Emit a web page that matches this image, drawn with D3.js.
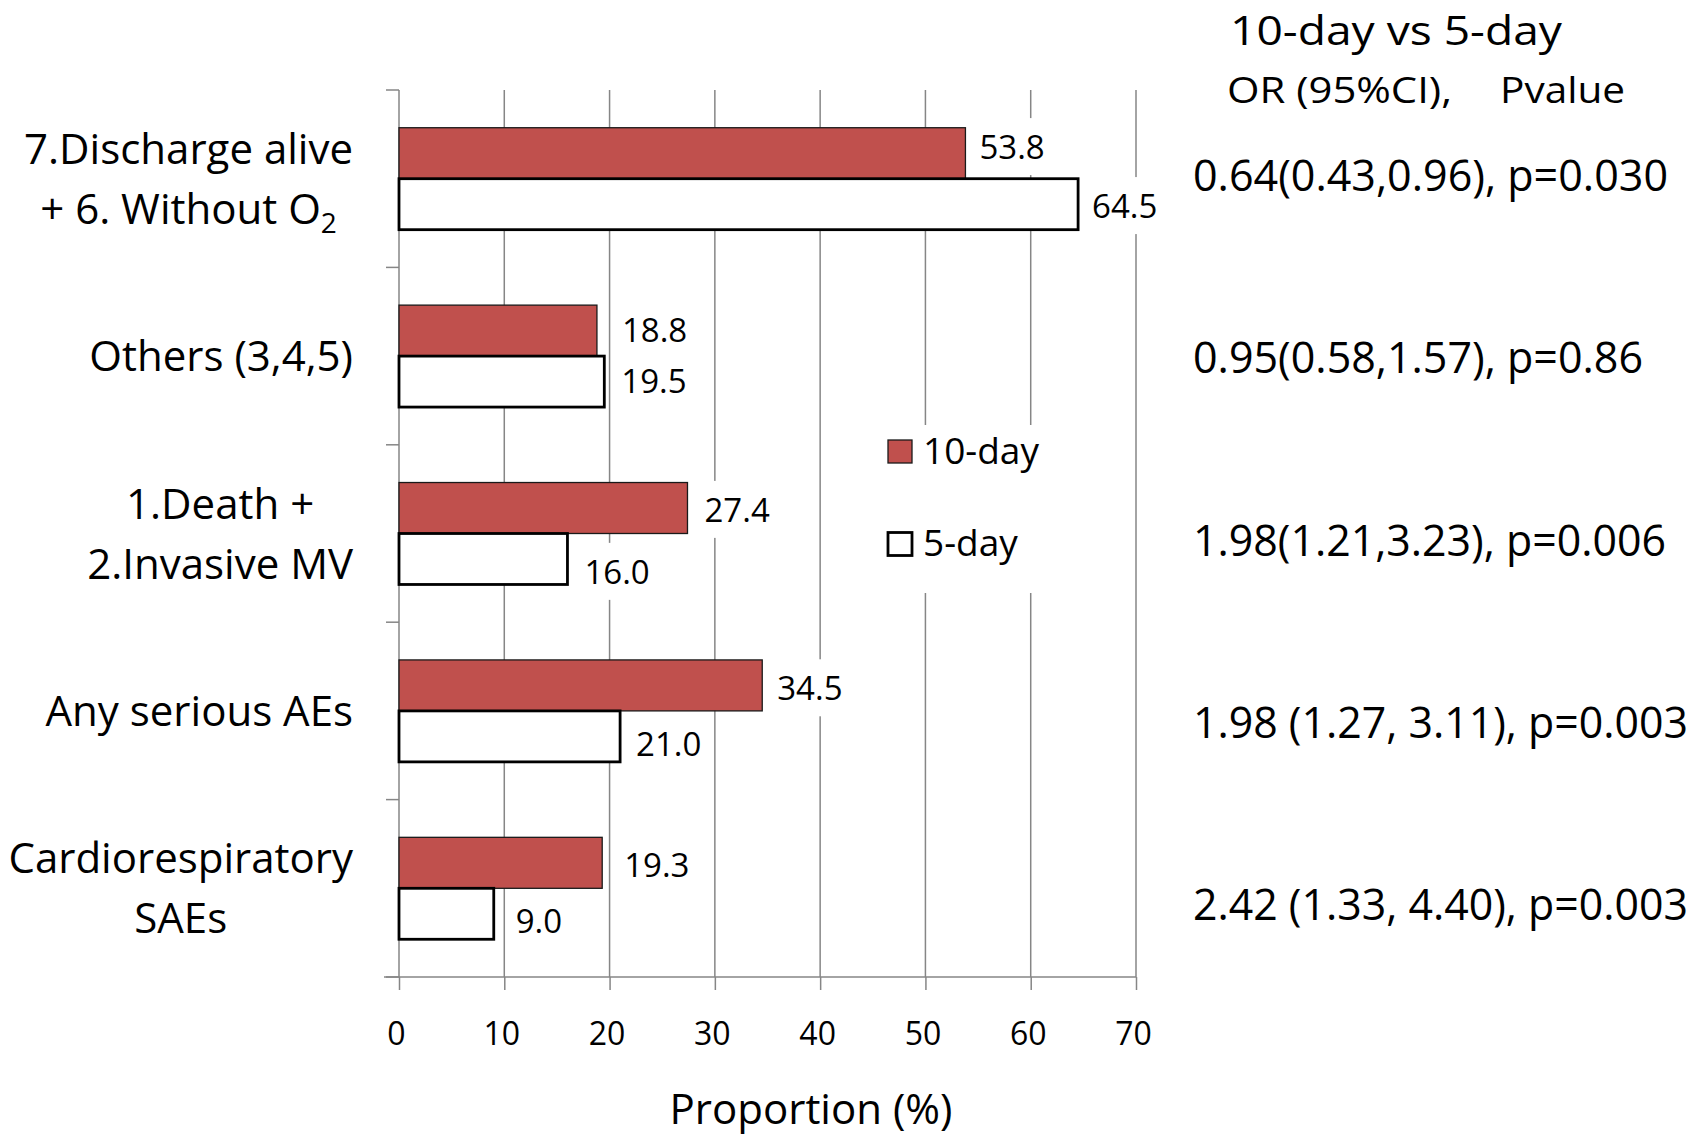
<!DOCTYPE html>
<html>
<head>
<meta charset="utf-8">
<script src="https://cdn.jsdelivr.net/npm/d3@7"></script>
<style>
  html, body { margin: 0; padding: 0; background: #fff; }
  svg { display: block; font-family: "Open Sans", sans-serif; }
</style>
</head>
<body>
<svg id="chart" width="1702" height="1138"></svg>
<script>
// ---------- data ----------
const categories = [
  ["7.Discharge alive", "+ 6. Without O|2"],
  ["Others (3,4,5)"],
  ["1.Death +", "2.Invasive MV"],
  ["Any serious AEs"],
  ["Cardiorespiratory", "SAEs"]
];
const seriesNames = ["10-day", "5-day"];
const values10 = [53.8, 18.8, 27.4, 34.5, 19.3];
const values5  = [64.5, 19.5, 16.0, 21.0, 9.0];
const xTicks = [0, 10, 20, 30, 40, 50, 60, 70];
const tableTitle = "10-day vs 5-day";
const tableHeader = ["OR (95%CI),", "Pvalue"];
const orRows = [
  "0.64(0.43,0.96), p=0.030",
  "0.95(0.58,1.57), p=0.86",
  "1.98(1.21,3.23), p=0.006",
  "1.98 (1.27, 3.11), p=0.003",
  "2.42 (1.33, 4.40), p=0.003"
];

// ---------- layout (not data) ----------
const orRowWidths = [475, 450, 473, 495, 495];
const labelNudge10 = [-6, 0, 2, 3, 2];     // small vertical nudges of value labels
const labelNudge5  = [2, 0, 13, 8, 7];
const labelGap10 = [14, 25, 17, 15, 22];
const labelGap5  = [14, 17, 17, 16, 22];
const colors = { red: "#C0504D", grid: "#868686" };

const svg = d3.select("#chart");
const x = d3.scaleLinear().domain([0, 70]).range([399, 1136]);
const y = d3.scaleBand().domain(d3.range(categories.length)).range([90, 977]).padding(0);
const ys = d3.scaleBand().domain(seriesNames).range([0, y.bandwidth()]).paddingInner(0).paddingOuter(0.74);

const rows = categories.map((c, i) => ({ i, lines: c, v10: values10[i], v5: values5[i] }));

// gridlines
svg.append("g").selectAll("line").data(xTicks.filter(t => t > 0)).join("line")
  .attr("x1", d => x(d)).attr("x2", d => x(d))
  .attr("y1", y.range()[0]).attr("y2", y.range()[1])
  .attr("stroke", colors.grid).attr("stroke-width", 1.5);

// bottom axis
const xAxis = svg.append("g").attr("transform", `translate(0,${y.range()[1]})`)
  .call(d3.axisBottom(x).tickValues(xTicks).tickSize(13).tickPadding(0).tickFormat(d3.format("d")));
xAxis.select(".domain").remove();
xAxis.selectAll(".tick line").attr("stroke", colors.grid).attr("stroke-width", 1.5);
xAxis.selectAll(".tick text").attr("font-size", 32).attr("fill", "#000")
  .attr("font-family", "Open Sans").attr("dy", null).attr("y", 68).attr("x", -3);
svg.append("line").attr("x1", 384).attr("x2", x(70))
  .attr("y1", y.range()[1]).attr("y2", y.range()[1])
  .attr("stroke", colors.grid).attr("stroke-width", 1.5);

// left axis
svg.append("line").attr("x1", x(0)).attr("x2", x(0))
  .attr("y1", y.range()[0]).attr("y2", y.range()[1])
  .attr("stroke", colors.grid).attr("stroke-width", 1.5);
const bounds = d3.range(categories.length + 1).map(i => i < categories.length ? y(i) : y.range()[1]);
svg.append("g").selectAll("line").data(bounds).join("line")
  .attr("x1", x(0) - 13).attr("x2", x(0)).attr("y1", d => d).attr("y2", d => d)
  .attr("stroke", colors.grid).attr("stroke-width", 1.5);

// bars
const barG = svg.append("g");
barG.selectAll("rect.b10").data(rows).join("rect").attr("class", "b10")
  .attr("x", x(0)).attr("y", d => y(d.i) + ys("10-day"))
  .attr("width", d => x(d.v10) - x(0)).attr("height", ys.bandwidth())
  .attr("fill", colors.red).attr("stroke", "#1a1a1a").attr("stroke-width", 1.3);
barG.selectAll("rect.b5").data(rows).join("rect").attr("class", "b5")
  .attr("x", x(0)).attr("y", d => y(d.i) + ys("5-day"))
  .attr("width", d => x(d.v5) - x(0)).attr("height", ys.bandwidth())
  .attr("fill", "#fff").attr("stroke", "#000").attr("stroke-width", 2.8);

// value labels with white backgrounds
const fmt = d3.format(".1f");
function valueLabel(v, xPos, yCenter) {
  const g = svg.append("g");
  const bg = g.append("rect").attr("fill", "#fff");
  const t = g.append("text").attr("x", xPos).attr("y", yCenter).attr("dy", "0.36em")
    .attr("font-size", 33).attr("fill", "#000").text(fmt(v));
  const bb = t.node().getBBox();
  bg.attr("x", bb.x - 8).attr("y", bb.y - 6).attr("width", bb.width + 16).attr("height", bb.height + 12);
}
rows.forEach(d => {
  valueLabel(d.v10, x(d.v10) + labelGap10[d.i], y(d.i) + ys("10-day") + ys.bandwidth() / 2 + labelNudge10[d.i]);
  valueLabel(d.v5, x(d.v5) + labelGap5[d.i], y(d.i) + ys("5-day") + ys.bandwidth() / 2 + labelNudge5[d.i]);
});

// category labels (centered block, right-aligned to axis)
const labelRight = 353, lineGap = 60;
rows.forEach(d => {
  const cy = y(d.i) + y.bandwidth() / 2;
  const n = d.lines.length;
  const g = svg.append("g");
  const texts = d.lines.map((line, k) => {
    const t = g.append("text").attr("font-size", 42).attr("fill", "#000")
      .attr("text-anchor", "middle")
      .attr("y", cy + 15 + (k - (n - 1) / 2) * lineGap);
    const parts = line.split("|");
    t.append("tspan").text(parts[0]);
    if (parts[1]) t.append("tspan").attr("font-size", 28).attr("dy", 9).text(parts[1]);
    return t;
  });
  const maxW = d3.max(texts, t => t.node().getComputedTextLength());
  texts.forEach(t => t.attr("x", labelRight - maxW / 2));
});

// axis title
svg.append("text").attr("x", 811).attr("y", 1124).attr("text-anchor", "middle")
  .attr("font-size", 42).attr("fill", "#000").text("Proportion (%)");

// legend
const legG = svg.append("g");
legG.append("rect").attr("x", 878).attr("y", 425).attr("width", 175).attr("height", 168).attr("fill", "#fff");
const legY = d3.scalePoint().domain(seriesNames).range([451.5, 544]);
seriesNames.forEach((s, k) => {
  const cy = legY(s);
  legG.append("rect").attr("x", 888).attr("y", cy - 11.5).attr("width", 24).attr("height", 23)
    .attr("fill", k === 0 ? colors.red : "#fff")
    .attr("stroke", k === 0 ? "#1a1a1a" : "#000").attr("stroke-width", k === 0 ? 1.3 : 2.8);
  legG.append("text").attr("x", 923).attr("y", cy + 12).attr("font-size", 37).attr("fill", "#000").text(s);
});

// OR table
svg.append("text").attr("x", 1230).attr("y", 45).attr("font-size", 41).attr("fill", "#000")
  .attr("textLength", 332).attr("lengthAdjust", "spacingAndGlyphs").text(tableTitle);
svg.append("text").attr("x", 1227).attr("y", 103).attr("font-size", 36).attr("fill", "#000")
  .attr("textLength", 225).attr("lengthAdjust", "spacingAndGlyphs").text(tableHeader[0]);
svg.append("text").attr("x", 1500).attr("y", 103).attr("font-size", 36).attr("fill", "#000")
  .attr("textLength", 125).attr("lengthAdjust", "spacingAndGlyphs").text(tableHeader[1]);
const rowY = d3.scaleLinear().domain([0, orRows.length - 1]).range([191, 920]);
svg.append("g").selectAll("text").data(orRows).join("text")
  .attr("x", 1193).attr("y", (d, i) => rowY(i)).attr("font-size", 43).attr("fill", "#000")
  .attr("textLength", (d, i) => orRowWidths[i]).attr("lengthAdjust", "spacingAndGlyphs")
  .text(d => d);
</script>
</body>
</html>
